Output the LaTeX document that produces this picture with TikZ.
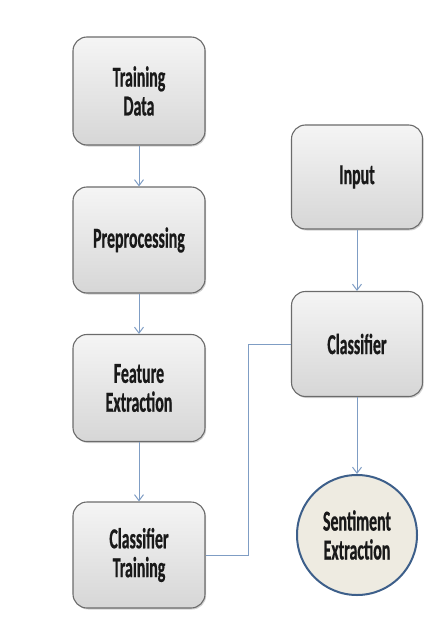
\documentclass[tikz,border=0pt]{standalone}
\usepackage{fontspec}
\usetikzlibrary{shadows,arrows.meta}
\newfontfamily\boxfont[FakeStretch=0.55,FakeBold=0.6]{Carlito}
\definecolor{arrowblue}{HTML}{7F9DC4}
\definecolor{boxline}{HTML}{6B6B6B}
\definecolor{circfill}{HTML}{EEEBE1}
\definecolor{circline}{HTML}{3D5F8A}

\begin{document}
\begin{tikzpicture}[-{Straight Barb[length=6bp,width=9bp]},x=1bp,y=-1bp,
        line width=1bp,
        step box/.style={rectangle,rounded corners=14bp,draw=boxline,line width=1.1bp,
            top color=gray!8,bottom color=gray!32,
            drop shadow={opacity=0.35,shadow xshift=1.2bp,shadow yshift=-1.5bp},
            minimum width=132bp,minimum height=106bp,align=center,
            font=\boxfont\bfseries\fontsize{29}{29}\selectfont,text=black!90},
        result node/.style={circle,draw=circline,line width=2bp,fill=circfill,
            minimum size=120bp,inner sep=0pt,align=center,
            font=\boxfont\bfseries\fontsize{29}{29}\selectfont,text=black!90}]

    \useasboundingbox (0,0) rectangle (433,617);

    \node[step box, minimum height=108bp] (train) at (139,91) {Training\\Data};
    \node[step box] (prep) at (139,240) {Preprocessing};
    \node[step box, minimum height=107bp] (feat) at (139,388) {Feature\\Extraction};
    \node[step box] (ctrain) at (139,555) {Classifier\\Training};
    \node[step box, minimum width=131bp, minimum height=104bp] (input) at (357,177) {Input};
    \node[step box, minimum width=131bp, minimum height=105bp] (clf) at (357,344) {Classifier};
    \node[result node] (sent) at (357,535) {Sentiment\\Extraction};

    \draw[arrowblue] (train) -- (prep);
    \draw[arrowblue] (prep) -- (feat);
    \draw[arrowblue] (feat) -- (ctrain);
    \draw[arrowblue] (input) -- (clf);
    \draw[arrowblue] (clf) -- (sent);

    \draw[-,arrowblue] (ctrain.east) -- ++(43,0) |- (clf.west);

\end{tikzpicture}
\end{document}
